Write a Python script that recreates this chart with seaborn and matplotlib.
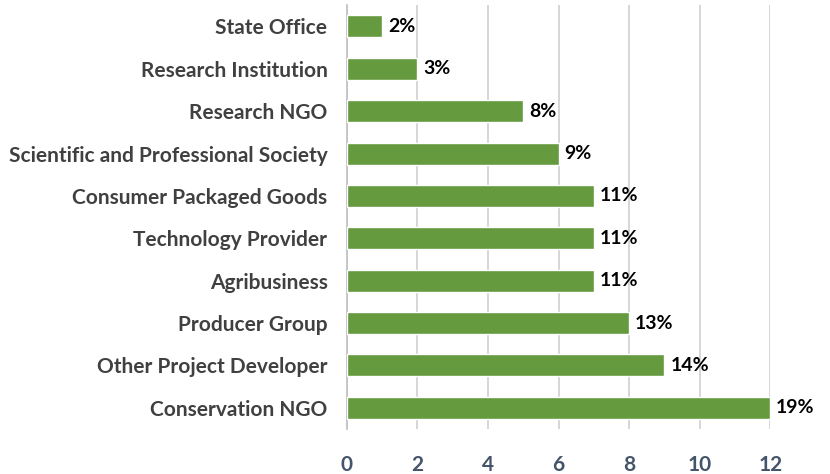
import matplotlib
matplotlib.use("Agg")
import matplotlib.pyplot as plt
import seaborn as sns
import pandas as pd

categories = ["State Office", "Research Institution", "Research NGO",
              "Scientific and Professional Society", "Consumer Packaged Goods",
              "Technology Provider", "Agribusiness", "Producer Group",
              "Other Project Developer", "Conservation NGO"]
counts = [1, 2, 5, 6, 7, 7, 7, 8, 9, 12]
pct_labels = ["2%", "3%", "8%", "9%", "11%", "11%", "11%", "13%", "14%", "19%"]
xticks = [0, 2, 4, 6, 8, 10, 12]

df = pd.DataFrame({"category": categories, "count": counts})

sns.set_style("white")
plt.rcParams["font.family"] = ["Lato", "DejaVu Sans"]

fig = plt.figure(figsize=(8.3, 4.74), dpi=100)
ax = fig.add_axes([0.418, 0.095, 0.51, 0.894])

sns.barplot(data=df, x="count", y="category", orient="h", color="#659A3F",
            saturation=1, width=0.52, ax=ax, zorder=3)

for i, (v, lab) in enumerate(zip(counts, pct_labels)):
    ax.text(v + 0.17, i, lab, va="center", ha="left", fontsize=14,
            fontweight="bold", color="black")

ax.set_xlim(0, 12)
ax.set_xticks(xticks)
ax.set_xticklabels([str(t) for t in xticks], fontsize=15, fontweight="bold",
                   color="#44546A")
ax.tick_params(axis="x", length=5, color="#BFBFBF", pad=14)
ax.tick_params(axis="y", length=0, pad=14)
for lbl in ax.get_yticklabels():
    lbl.set_fontsize(15)
    lbl.set_fontweight("bold")
    lbl.set_color("#404040")

ax.xaxis.grid(True, color="#D0D0D0", linewidth=1.2, zorder=0)
ax.yaxis.grid(False)
for s in ["top", "right", "bottom"]:
    ax.spines[s].set_visible(False)
ax.spines["left"].set_color("#BFBFBF")
ax.spines["left"].set_linewidth(1.2)
ax.set_xlabel("")
ax.set_ylabel("")

fig.savefig("out.png", dpi=100)
